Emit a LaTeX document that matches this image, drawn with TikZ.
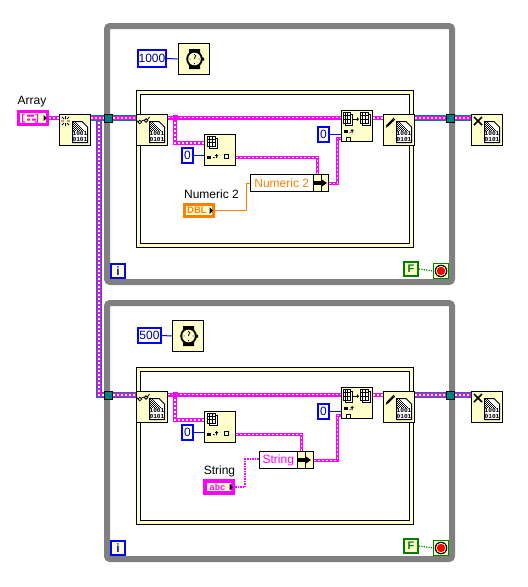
\documentclass[tikz,border=0pt]{standalone}
\usepackage{fontspec}
\setmainfont{Liberation Sans}
\newfontfamily\monob{Liberation Mono}[Scale=1]
\definecolor{cream}{RGB}{255,255,204}
\definecolor{lvmag}{RGB}{255,0,255}
\definecolor{lvteal}{RGB}{0,128,128}
\definecolor{lvblue}{RGB}{0,0,255}
\definecolor{lvnavy}{RGB}{0,0,140}
\definecolor{lvorange}{RGB}{255,128,0}
\definecolor{lvgreen}{RGB}{0,128,0}
\definecolor{lvgray}{RGB}{128,128,128}
\definecolor{lvred}{RGB}{255,0,0}
\tikzset{
  pixbox/.style={rectangle,inner sep=0pt,font=\fontsize{12}{12}\selectfont},
  iconbox/.style={pixbox,draw=black,fill=cream,line width=1pt},
  constbox/.style={pixbox,draw=lvblue,fill=white,line width=2.4pt,text=lvnavy},
  tunnelbox/.style={pixbox,draw=black,fill=lvteal,line width=1pt},
  propbox/.style={pixbox,draw=black,fill=white,line width=1pt},
  cellbox/.style={pixbox,draw=black,fill=cream,line width=1pt},
  termbox/.style={pixbox,fill=cream,line width=2.6pt},
  iterbox/.style={pixbox,draw=lvblue,fill=cream,line width=2pt,text=lvblue,font=\fontsize{12}{12}\bfseries\selectfont},
  boolbox/.style={pixbox,draw=lvgreen,fill=cream,line width=2pt,text=lvgreen,font=\fontsize{11}{11}\bfseries\selectfont},
  stopbox/.style={pixbox,draw=lvgreen,fill=cream,line width=1pt},
  labeltext/.style={pixbox,text=black},
  loopframe/.style={draw=lvgray,line width=6pt,rounded corners=3pt},
  wirepink/.style={draw=lvmag,line width=4pt,solid,postaction={draw=white,line width=1.4pt,dash pattern=on 2pt off 2pt}},
  wirebus/.style={wirepink,preaction={draw=lvteal,line width=6pt,solid}},
  wirestr/.style={draw=lvmag,line width=3pt,solid,postaction={draw=white,line width=.7pt,dash pattern=on 2pt off 2pt}},
  wiredot/.style={draw=lvmag,line width=2pt,dash pattern=on 1.5pt off 1pt},
  wireblue/.style={draw=lvblue,line width=1pt},
  wireorange/.style={draw=lvorange,line width=1pt},
  wiregreen/.style={draw=lvgreen,line width=1.2pt,dash pattern=on 1.2pt off 1.2pt},
}
% box given by its visible edges
\newcommand{\bx}[7]{\node[#1,minimum width={((#5)-(#3))*1pt-\pgflinewidth},minimum height={((#6)-(#4))*1pt-\pgflinewidth}] (#2) at ({((#3)+(#5))/2},{((#4)+(#6))/2}) {#7};}
\newcommand{\docmark}{%
  \draw[black,line width=1pt,fill=white] (13.5,7.5)--(23,7.5)--(28.5,13)--(28.5,28.5)--(13.5,28.5)--cycle;
  \foreach \i in {14,...,27}{\foreach \j in {8,...,16}{%
    \pgfmathparse{int(mod(\i+\j,2))}\ifnum\pgfmathresult=0
      \pgfmathparse{int(\i-\j<9?1:0)}\ifnum\pgfmathresult=1 \fill[black] (\i,\j) rectangle ++(1,1);\fi\fi}}
  \node[inner sep=0pt,align=center,font=\monob\fontsize{6.2}{5.6}\bfseries\selectfont] at (21,22.6) {1001\\0101};
}
\newcommand{\marknew}{\draw[black,line width=.9pt] (2,7)--(5,7) (8,7)--(11,7) (6.5,2)--(6.5,5) (6.5,9)--(6.5,12) (3,3)--(5,5) (10,3)--(8,5) (3,11)--(5,9) (10,11)--(8,9);}
\newcommand{\markread}{\draw[black,line width=.8pt] (3.8,8) circle (1.8) (10,6.5) circle (1.8) (5.4,7)--(8.3,6) (1.8,7.6)--(1,6.8) (11.6,5.6)--(13.5,3);}
\newcommand{\markwrite}{\draw[black,line width=2.2pt] (4,12)--(10.5,5.5); \draw[black,line width=.8pt] (3,13.5)--(4,12) (10,4)--(12,6);}
\newcommand{\markclose}{\draw[black,line width=1.7pt] (3,3)--(11,11) (11,3)--(3,11);}
\newcommand{\icon}[4]{\bx{iconbox}{#1}{#2}{#3}{#2+32}{#3+32}{}
  \begin{scope}[shift={(#2,#3)}]#4\end{scope}}
\newcommand{\watchmark}{%
  \fill[black] (11,6) rectangle (22,26) (24,14.5) rectangle (26,17.5);
  \fill[black] (16.5,16) circle (8.3);
  \fill[cream] (16.5,16) circle (6.3);
  \draw[black,line width=.8pt] (16.5,16)--(17.8,12) (16.5,11)--(16.5,12) (16.5,20)--(16.5,21) (11.5,16)--(12.5,16) (20.5,16)--(21.5,16);
}
\newcommand{\subsetmark}{%
  \draw[black,line width=.8pt,fill=white] (5,4) rectangle (13,14);
  \draw[black,line width=.8pt,fill=white] (3,2) rectangle (11,12);
  \draw[black,line width=.7pt] (5.7,2)--(5.7,12) (8.3,2)--(8.3,12) (3,5.3)--(11,5.3) (3,8.7)--(11,8.7);
  \fill[black] (3,22) rectangle (7,25);
  \fill[black] (9,23) rectangle (10.5,24) (12,20) rectangle (13,24) (11,21) rectangle (14,22);
  \draw[black,line width=1pt] (20.5,20.5) rectangle (24.5,24.5);
}
\newcommand{\replacemark}{%
  \draw[black,line width=.8pt,fill=white] (4,4) rectangle (11,15);
  \draw[black,line width=.8pt,fill=white] (2,2) rectangle (9,13);
  \draw[black,line width=.7pt] (4.3,2)--(4.3,13) (6.7,2)--(6.7,13) (2,5.6)--(9,5.6) (2,9.3)--(9,9.3);
  \draw[black,line width=.8pt,fill=white] (21,4) rectangle (29,15);
  \draw[black,line width=.8pt,fill=white] (19,2) rectangle (27,13);
  \draw[black,line width=.7pt] (21.6,2)--(21.6,13) (24.3,2)--(24.3,13) (19,5.6)--(27,5.6) (19,9.3)--(27,9.3);
  \draw[black,line width=1pt] (12,9)--(16,9);
  \fill[black] (16,7) -- (18,9) -- (16,11) -- cycle;
  \fill[black] (3,20) rectangle (7,23);
  \fill[black] (8.5,22) rectangle (9.5,23) (10.5,19) rectangle (11.5,23) (9.5,20) rectangle (12.5,21);
  \draw[black,line width=1pt] (5.5,27.5) rectangle (9.5,31);
}
% parts that the two loops have in common, drawn in the upper loop's coordinates
\newcommand{\loopbody}[2]{%
\begin{scope}[yshift=#2]
  \draw[loopframe] (107,26) rectangle (452,282);
  \node[rectangle,draw=black,fill=cream,line width=1pt,inner sep=0pt,minimum width=277pt,minimum height=157pt] (case#1) at (275,169) {};
  \node[rectangle,draw=black,fill=white,line width=1pt,inner sep=0pt,minimum width=269pt,minimum height=149pt] (pane#1) at (275,169) {};
  \coordinate (bus#1) at (0,118);
  \coordinate (inner#1) at (0,117.5);
  \coordinate (br#1) at (175,117.5);
  \coordinate (sb#1) at (204,143);
  \coordinate (subout#1) at (236,157);
  \coordinate (up#1) at (337,138);
  \bx{tunnelbox}{tunL#1}{104}{114}{113}{123}{}
  \bx{tunnelbox}{tunR#1}{446}{114}{455}{123}{}
  \icon{read#1}{136}{114}{\markread\docmark}
  \icon{write#1}{383}{114}{\markwrite\docmark}
  \icon{close#1}{471}{114}{\markclose\docmark}
  \icon{subset#1}{204}{134}{\subsetmark}
  \icon{replace#1}{341}{110}{\replacemark}
  \bx{constbox}{zeroA#1}{181}{147}{194}{164}{0}
  \bx{constbox}{zeroB#1}{317}{126}{330}{143}{0}
  \bx{iterbox}{iter#1}{110}{263}{126}{279}{i}
  \bx{boolbox}{bool#1}{403}{261}{419}{277}{F}
  \bx{stopbox}{stop#1}{433}{263}{449}{279}{}
  \fill[black] (441,271) circle (6.3);
  \fill[cream] (441,271) circle (5.2);
  \fill[lvred] (441,271) circle (4.2);
  \draw[wirebus] (tunL#1.east |- bus#1) -- (read#1.west |- bus#1);
  \draw[wirepink] (read#1.east |- inner#1) -- (replace#1.west |- inner#1);
  \draw[wirepink] (replace#1.east |- bus#1) -- (write#1.west |- bus#1);
  \draw[wirepink] (br#1) |- (sb#1);
  \fill[lvmag] (172.5,115) rectangle (177.5,120);
  \draw[wirebus] (write#1.east |- bus#1) -- (tunR#1.west |- bus#1);
  \draw[wirebus] (tunR#1.east |- bus#1) -- (close#1.west |- bus#1);
  \draw[wireblue] (zeroA#1.east) -- (subset#1.west |- zeroA#1.east);
  \draw[wireblue] (zeroB#1.east) -- (replace#1.west |- zeroB#1.east);
  \draw[wiregreen] (bool#1.east) -- (stop#1.west);
\end{scope}}
\newcommand{\arrowmark}[2]{%
  \fill[black] (#1,#2-2) rectangle (#1+8,#2+2);
  \fill[black] (#1+8,#2-3.5) -- (#1+13,#2) -- (#1+8,#2+3.5) -- cycle;
}
\begin{document}
\begin{tikzpicture}[x=1pt,y=-1pt]
\useasboundingbox (0,0) rectangle (528,587);
\fill[white] (0,0) rectangle (528,587);

\loopbody{1}{0pt}
\loopbody{2}{-277pt}

% timers
\bx{constbox}{delayA}{137}{49}{167}{68}{1000}
\icon{timerA}{178}{43}{\watchmark}
\draw[wireblue] (delayA.east) -- (timerA.west);
\bx{constbox}{delayB}{137}{327}{162}{344}{500}
\icon{timerB}{172}{320}{\watchmark}
\draw[wireblue] (delayB.east) -- (timerB.west);

% array terminal and file open
\node[labeltext] (lblArray) at (32,102) {Array};
\bx{termbox,draw=lvmag,line width=3pt}{arrayterm}{17}{110}{49}{126}{}
\fill[lvmag] (22,113.5) rectangle (23.2,122.5) (22,113.5) rectangle (25,114.7) (22,121.3) rectangle (25,122.5);
\fill[lvmag] (27,114.5) rectangle (34,116.5) (27,118.5) rectangle (30,120.5) (32,118.5) rectangle (36,120.5);
\fill[lvmag] (37,113.5) rectangle (38.2,122.5) (35,113.5) rectangle (38,114.7) (35,121.3) rectangle (38,122.5);
\fill[black] (43.5,115) -- (47,118) -- (43.5,121) -- cycle;
\icon{create}{59}{114}{\marknew\docmark}
\coordinate (busTop) at (0,118);
\coordinate (forkA) at (99,118);
\draw[wirepink] (arrayterm.east |- busTop) -- (create.west |- busTop);
\draw[wirebus] (forkA) |- (tunL2.west |- bus2);
\draw[wirebus] (create.east |- busTop) -- (tunL1.west |- busTop);

% upper property node
\node[labeltext] (lblNum) at (211.5,194) {Numeric 2};
\bx{termbox,draw=lvorange}{dblterm}{183}{203}{215}{218}{\hspace*{-4pt}\textcolor{lvorange}{\fontsize{9.5}{9.5}\bfseries\selectfont DBL}}
\fill[black] (209.5,207) -- (213,210.5) -- (209.5,214) -- cycle;
\bx{propbox,text=lvorange}{propNum}{250}{174}{313.5}{192}{Numeric 2}
\bx{cellbox}{cellA1}{313}{174}{321.5}{192}{}
\bx{cellbox}{cellB1}{321}{174}{329}{192}{}
\arrowmark{314}{183}
\coordinate (oc) at (246,183);
\draw[wireorange] (dblterm.east) -| (oc) -- (propNum.west);
\draw[wirestr] (subout1) -| (cellA1.north);
\draw[wirestr] (cellB1.east) -| (up1) -- (replace1.west |- up1);

% lower property node
\node[labeltext] (lblStr) at (219.5,471) {String};
\bx{termbox,draw=lvmag}{strterm}{203}{479}{235}{495}{\hspace*{-3pt}\textcolor{lvmag}{\monob\fontsize{9}{9}\bfseries\selectfont abc}}
\draw[lvmag,line width=.8pt] (206.5,482.5) rectangle (231.5,491.5);
\fill[black] (229.5,483.5) -- (233,487) -- (229.5,490.5) -- cycle;
\bx{propbox,text=lvmag}{propStr}{259}{451}{297.5}{469}{String}
\bx{cellbox}{cellA2}{297}{451}{305.5}{469}{}
\bx{cellbox}{cellB2}{305}{451}{314}{469}{}
\arrowmark{298}{460}
\coordinate (sc) at (245,459);
\draw[wirestr] (subout2) -| (cellA2.north);
\draw[wirestr] (cellB2.east) -| (up2) -- (replace2.west |- up2);
\draw[wiredot] (strterm.east) -| (sc) -- (propStr.west |- sc);
\end{tikzpicture}
\end{document}
